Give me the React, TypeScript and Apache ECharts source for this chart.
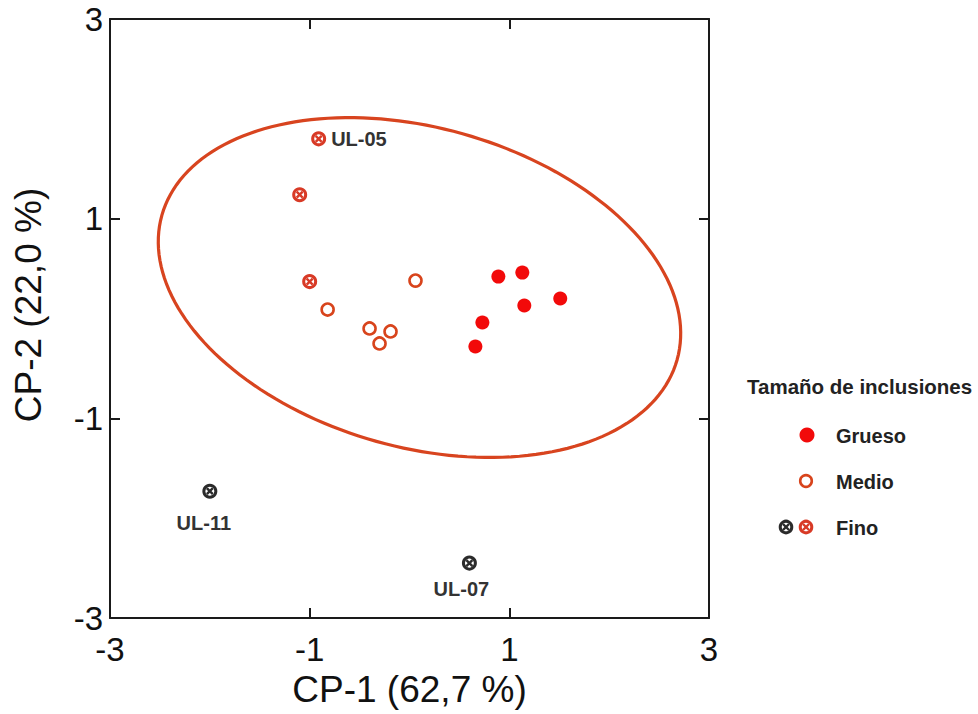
import React, { useEffect, useRef } from 'react';
import * as echarts from 'echarts';

const xTitle = 'CP-1 (62,7 %)';
const yTitle = 'CP-2 (22,0 %)';
const legendTitle = 'Tamaño de inclusiones';
const legendNames = ['Grueso', 'Medio', 'Fino'];

const grueso: [number, number][] = [
  [0.89, 0.42], [1.13, 0.46], [1.15, 0.13], [1.51, 0.2], [0.73, -0.04], [0.66, -0.28],
];
const medio: [number, number][] = [
  [-0.82, 0.09], [0.06, 0.38], [-0.4, -0.1], [-0.19, -0.13], [-0.3, -0.25],
];
const finoRojo: [number, number][] = [[-0.91, 1.8], [-1.1, 1.24], [-1.0, 0.37]];
const finoRojoNames = ['UL-05', '', ''];
const finoNegro: [number, number][] = [[-2.0, -1.73], [0.6, -2.45]];
const finoNegroNames = ['UL-11', 'UL-07'];

// confidence ellipse (data units)
const ellipseCenter: [number, number] = [0.1, 0.31];
const ellipseAxes: [number, number] = [2.68, 1.6];
const ellipseAngleDeg = -15.65;

const RED = '#f20a0a';
const ORANGE = '#d8441c';
const FINO_RED = '#d83a26';
const BLACK = '#2b2b2b';
const ELLIPSE = '#d8441f';
const FONT = '"Liberation Sans", Arial, sans-serif';
const XPATH = 'path://M0,0L10,10M10,0L0,10';

export default function App() {
  const ref = useRef<HTMLDivElement>(null);
  useEffect(() => {
    if (!ref.current) return;
    const chart = echarts.init(ref.current, null, { renderer: 'svg' });

    const labelStyle = { color: '#333', fontSize: 20, fontWeight: 'bold', fontFamily: FONT, formatter: '{b}' };
    const finoRojoData = finoRojo.map((p, i) => ({
      value: p,
      name: finoRojoNames[i],
      label: { show: !!finoRojoNames[i], position: 'right', distance: 5, ...labelStyle },
    }));
    const finoNegroData = finoNegro.map((p, i) => ({
      value: p,
      name: finoNegroNames[i],
      label: {
        show: true,
        position: 'bottom',
        distance: i === 0 ? 14 : 8,
        offset: i === 0 ? [-6, 0] : [-8, 0],
        ...labelStyle,
      },
    }));

    const axisCommon = {
      type: 'value' as const,
      min: -3,
      max: 3,
      interval: 2,
      splitLine: { show: false },
      axisLine: { show: true, onZero: false, lineStyle: { color: '#1a1a1a', width: 2 } },
      axisTick: { show: true, inside: true, length: 10, lineStyle: { color: '#1a1a1a', width: 2 } },
    };

    const crossRing = (data: any[], color: string, z: number) => [
      {
        type: 'scatter',
        xAxisIndex: 0,
        yAxisIndex: 0,
        data,
        symbol: 'circle',
        symbolSize: 12,
        itemStyle: { color: '#fff', borderColor: color, borderWidth: 3, opacity: 1 },
        z,
      },
      {
        type: 'scatter',
        xAxisIndex: 0,
        yAxisIndex: 0,
        data: data.map((d: any) => (Array.isArray(d) ? d : d.value)),
        symbol: XPATH,
        symbolSize: 6,
        itemStyle: { color: 'none', borderColor: color, borderWidth: 2.4, opacity: 1 },
        silent: true,
        z: z + 1,
      },
    ];

    const legendX = 807;
    const legendText = 836;

    chart.setOption({
      animation: false,
      backgroundColor: '#fff',
      grid: { left: 110, top: 19, width: 599, height: 599, containLabel: false },
      xAxis: [
        {
          ...axisCommon,
          position: 'bottom',
          axisLabel: { show: true, fontSize: 33, color: '#111', fontFamily: FONT, margin: 15 },
          name: xTitle,
          nameLocation: 'middle',
          nameGap: 53,
          nameTextStyle: { fontSize: 37, color: '#111', fontFamily: FONT },
        },
        { ...axisCommon, position: 'top', axisLabel: { show: false } },
      ],
      yAxis: [
        {
          ...axisCommon,
          position: 'left',
          axisLabel: { show: true, fontSize: 33, color: '#111', fontFamily: FONT, margin: 7 },
        },
        { ...axisCommon, position: 'right', axisLabel: { show: false } },
      ],
      series: [
        {
          type: 'custom',
          xAxisIndex: 0,
          yAxisIndex: 0,
          clip: false,
          silent: true,
          data: [ellipseCenter],
          renderItem: (_params: any, api: any) => {
            const th = (ellipseAngleDeg * Math.PI) / 180;
            const pts: number[][] = [];
            for (let i = 0; i <= 180; i++) {
              const t = (i / 180) * Math.PI * 2;
              const ex = ellipseAxes[0] * Math.cos(t);
              const ey = ellipseAxes[1] * Math.sin(t);
              const x = ellipseCenter[0] + ex * Math.cos(th) - ey * Math.sin(th);
              const y = ellipseCenter[1] + ex * Math.sin(th) + ey * Math.cos(th);
              pts.push(api.coord([x, y]));
            }
            return {
              type: 'polygon',
              shape: { points: pts },
              style: { fill: 'none', stroke: ELLIPSE, lineWidth: 3.2 },
            };
          },
          z: 1,
        },
        {
          name: legendNames[0],
          type: 'scatter',
          data: grueso,
          symbol: 'circle',
          symbolSize: 14,
          itemStyle: { color: RED, opacity: 1 },
          z: 3,
        },
        {
          name: legendNames[1],
          type: 'scatter',
          data: medio,
          symbol: 'circle',
          symbolSize: 12,
          itemStyle: { color: '#fff', borderColor: ORANGE, borderWidth: 2.6, opacity: 1 },
          z: 3,
        },
        ...crossRing(finoRojoData, FINO_RED, 3),
        ...crossRing(finoNegroData, BLACK, 3),
      ],
      graphic: [
        {
          type: 'text',
          x: 28,
          y: 305,
          rotation: Math.PI / 2,
          style: { text: yTitle, font: `37px ${FONT}`, fill: '#111', textAlign: 'center', textVerticalAlign: 'middle' },
        },
        {
          type: 'text',
          x: 747,
          y: 386,
          style: { text: legendTitle, font: `bold 20.5px ${FONT}`, fill: '#222', textAlign: 'left', textVerticalAlign: 'middle' },
        },
        { type: 'circle', shape: { cx: legendX, cy: 435, r: 7.5 }, style: { fill: RED } },
        { type: 'text', x: legendText, y: 436, style: { text: legendNames[0], font: `bold 20px ${FONT}`, fill: '#222', textVerticalAlign: 'middle' } },
        { type: 'circle', shape: { cx: legendX - 1, cy: 481, r: 5.8 }, style: { fill: '#fff', stroke: ORANGE, lineWidth: 2.6 } },
        { type: 'text', x: legendText, y: 482, style: { text: legendNames[1], font: `bold 20px ${FONT}`, fill: '#222', textVerticalAlign: 'middle' } },
        { type: 'circle', shape: { cx: 786, cy: 527, r: 5.8 }, style: { fill: '#fff', stroke: BLACK, lineWidth: 3 } },
        { type: 'line', shape: { x1: 783, y1: 524, x2: 789, y2: 530 }, style: { stroke: BLACK, lineWidth: 2.4 } },
        { type: 'line', shape: { x1: 789, y1: 524, x2: 783, y2: 530 }, style: { stroke: BLACK, lineWidth: 2.4 } },
        { type: 'circle', shape: { cx: 806, cy: 527, r: 5.8 }, style: { fill: '#fff', stroke: FINO_RED, lineWidth: 3 } },
        { type: 'line', shape: { x1: 803, y1: 524, x2: 809, y2: 530 }, style: { stroke: FINO_RED, lineWidth: 2.4 } },
        { type: 'line', shape: { x1: 809, y1: 524, x2: 803, y2: 530 }, style: { stroke: FINO_RED, lineWidth: 2.4 } },
        { type: 'text', x: legendText, y: 528, style: { text: legendNames[2], font: `bold 20px ${FONT}`, fill: '#222', textVerticalAlign: 'middle' } },
      ],
    });
    return () => chart.dispose();
  }, []);

  return (
    <div
      ref={ref}
      style={{ position: 'fixed', left: 0, top: 0, width: 978, height: 714, background: '#fff' }}
    />
  );
}
